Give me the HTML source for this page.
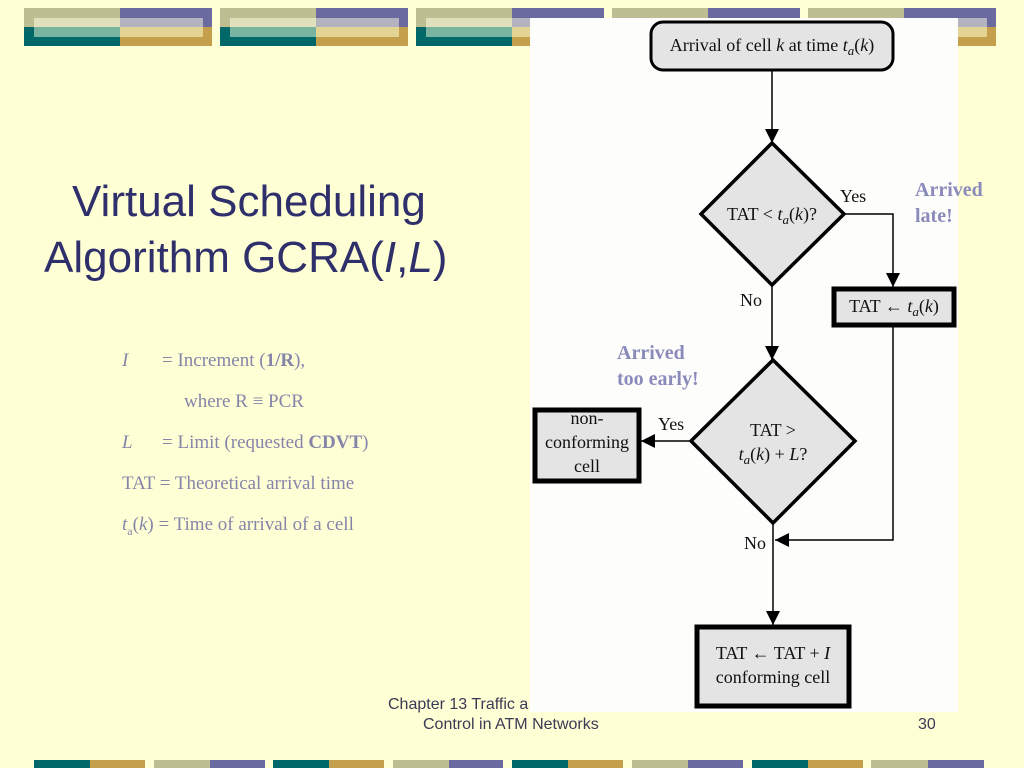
<!DOCTYPE html>
<html><head><meta charset="utf-8"><style>
body{margin:0;width:1024px;height:768px;background:#ffffd6;position:relative;overflow:hidden;font-family:"Liberation Sans",sans-serif}
.a{position:absolute;white-space:nowrap}
.t{font-size:44px;color:#2f2f6b;line-height:1}
.b{font-family:"Liberation Serif",serif;font-size:19px;color:#8585aa}
.r{font-family:"Liberation Serif",serif;font-size:20px;font-weight:bold;color:#8a8abb;line-height:26px}
.f{font-size:16px;color:#3a3a55}
</style></head><body>
<svg class="a" style="left:0;top:0" width="1024" height="768">
<defs>
<g id="blk">
<rect x="0" y="0" width="96" height="19" fill="#bdbf93"/>
<rect x="96" y="0" width="92" height="19" fill="#6a6aa0"/>
<rect x="0" y="19" width="96" height="19" fill="#006868"/>
<rect x="96" y="19" width="92" height="19" fill="#c4a04c"/>
<rect x="10" y="10" width="86" height="9" fill="#e0e0bc"/>
<rect x="96" y="10" width="83" height="9" fill="#b4b4c0"/>
<rect x="10" y="19" width="86" height="10" fill="#78b4a0"/>
<rect x="96" y="19" width="83" height="10" fill="#e4d494"/>
</g>
<marker id="ar" viewBox="0 0 10 10" refX="10" refY="5" markerWidth="14" markerHeight="14" markerUnits="userSpaceOnUse" orient="auto"><path d="M0,0L10,5L0,10z" fill="#000"/></marker>
</defs>
<use href="#blk" x="24" y="8"/><use href="#blk" x="220" y="8"/><use href="#blk" x="416" y="8"/><use href="#blk" x="612" y="8"/><use href="#blk" x="808" y="8"/>
<g>
<rect x="34" y="760" width="56" height="8" fill="#006868"/><rect x="90" y="760" width="55" height="8" fill="#c4a04c"/>
<rect x="154" y="760" width="56" height="8" fill="#bdbf93"/><rect x="210" y="760" width="55" height="8" fill="#6a6aa0"/>
<rect x="273" y="760" width="56" height="8" fill="#006868"/><rect x="329" y="760" width="55" height="8" fill="#c4a04c"/>
<rect x="393" y="760" width="56" height="8" fill="#bdbf93"/><rect x="449" y="760" width="54" height="8" fill="#6a6aa0"/>
<rect x="512" y="760" width="56" height="8" fill="#006868"/><rect x="568" y="760" width="55" height="8" fill="#c4a04c"/>
<rect x="632" y="760" width="56" height="8" fill="#bdbf93"/><rect x="688" y="760" width="55" height="8" fill="#6a6aa0"/>
<rect x="752" y="760" width="56" height="8" fill="#006868"/><rect x="808" y="760" width="55" height="8" fill="#c4a04c"/>
<rect x="871" y="760" width="57" height="8" fill="#bdbf93"/><rect x="928" y="760" width="56" height="8" fill="#6a6aa0"/>
</g>
<rect x="530" y="18" width="428" height="694" fill="#fdfdfb"/>
<g stroke="#000" fill="#e4e4e4">
<rect x="651" y="22" width="242" height="48" rx="12" stroke-width="3"/>
<polygon points="772,143 844,214 772,285 701,214" stroke-width="3.5"/>
<rect x="834" y="289" width="120" height="36" stroke-width="5"/>
<polygon points="773,360 855,441 773,523 691,441" stroke-width="3.5"/>
<rect x="535" y="410" width="104" height="71" stroke-width="5"/>
<rect x="697" y="627" width="152" height="79" stroke-width="5"/>
</g>
<g stroke="#000" stroke-width="1.5" fill="none" marker-end="url(#ar)">
<line x1="772" y1="70" x2="772" y2="143"/>
<polyline points="844,214 893,214 893,287"/>
<line x1="772" y1="285" x2="772" y2="360"/>
<polyline points="893,327 893,540 775,540"/>
<line x1="691" y1="441" x2="641" y2="441"/>
<line x1="773" y1="523" x2="773" y2="625"/>
</g>
<g font-family="Liberation Serif,serif" font-size="18" fill="#111">
<text x="772" y="51" text-anchor="middle">Arrival of cell <tspan font-style="italic">k</tspan> at time <tspan font-style="italic">t</tspan><tspan font-style="italic" font-size="13" dy="4">a</tspan><tspan dy="-4">(</tspan><tspan font-style="italic">k</tspan>)</text>
<text x="772" y="220" text-anchor="middle">TAT &lt; <tspan font-style="italic">t</tspan><tspan font-style="italic" font-size="13" dy="4">a</tspan><tspan dy="-4">(</tspan><tspan font-style="italic">k</tspan>)?</text>
<text x="840" y="202">Yes</text>
<text x="740" y="306">No</text>
<text x="894" y="312" text-anchor="middle">TAT ← <tspan font-style="italic">t</tspan><tspan font-style="italic" font-size="13" dy="4">a</tspan><tspan dy="-4">(</tspan><tspan font-style="italic">k</tspan>)</text>
<text x="773" y="436" text-anchor="middle">TAT &gt;</text>
<text x="773" y="460" text-anchor="middle"><tspan font-style="italic">t</tspan><tspan font-style="italic" font-size="13" dy="4">a</tspan><tspan dy="-4">(</tspan><tspan font-style="italic">k</tspan>) + <tspan font-style="italic">L</tspan>?</text>
<text x="658" y="430">Yes</text>
<text x="587" y="424" text-anchor="middle">non-</text>
<text x="587" y="448" text-anchor="middle">conforming</text>
<text x="587" y="472" text-anchor="middle">cell</text>
<text x="744" y="549">No</text>
<text x="773" y="659" text-anchor="middle">TAT ← TAT + <tspan font-style="italic">I</tspan></text>
<text x="773" y="683" text-anchor="middle">conforming cell</text>
</g>
</svg>
<div class="a t" style="left:72px;top:180px">Virtual Scheduling</div>
<div class="a t" style="left:44px;top:236px">Algorithm GCRA(<i>I</i>,<i>L</i>)</div>
<div class="a b" style="left:122px;top:350px"><i>I</i></div>
<div class="a b" style="left:162px;top:350px">= Increment (<b>1/R</b>),</div>
<div class="a b" style="left:184px;top:391px">where R ≡ PCR</div>
<div class="a b" style="left:122px;top:432px"><i>L</i></div>
<div class="a b" style="left:162px;top:432px">= Limit (requested <b>CDVT</b>)</div>
<div class="a b" style="left:122px;top:473px">TAT = Theoretical arrival time</div>
<div class="a b" style="left:122px;top:514px"><i>t</i><sub style="font-size:12px">a</sub>(<i>k</i>) = Time of arrival of a cell</div>
<div class="a r" style="left:915px;top:177px">Arrived<br>late!</div>
<div class="a r" style="left:617px;top:340px">Arrived<br>too early!</div>
<div class="a f" style="left:388px;top:696px">Chapter 13 Traffic a</div>
<div class="a f" style="left:423px;top:716px">Control in ATM Networks</div>
<div class="a f" style="left:918px;top:716px">30</div>
</body></html>
